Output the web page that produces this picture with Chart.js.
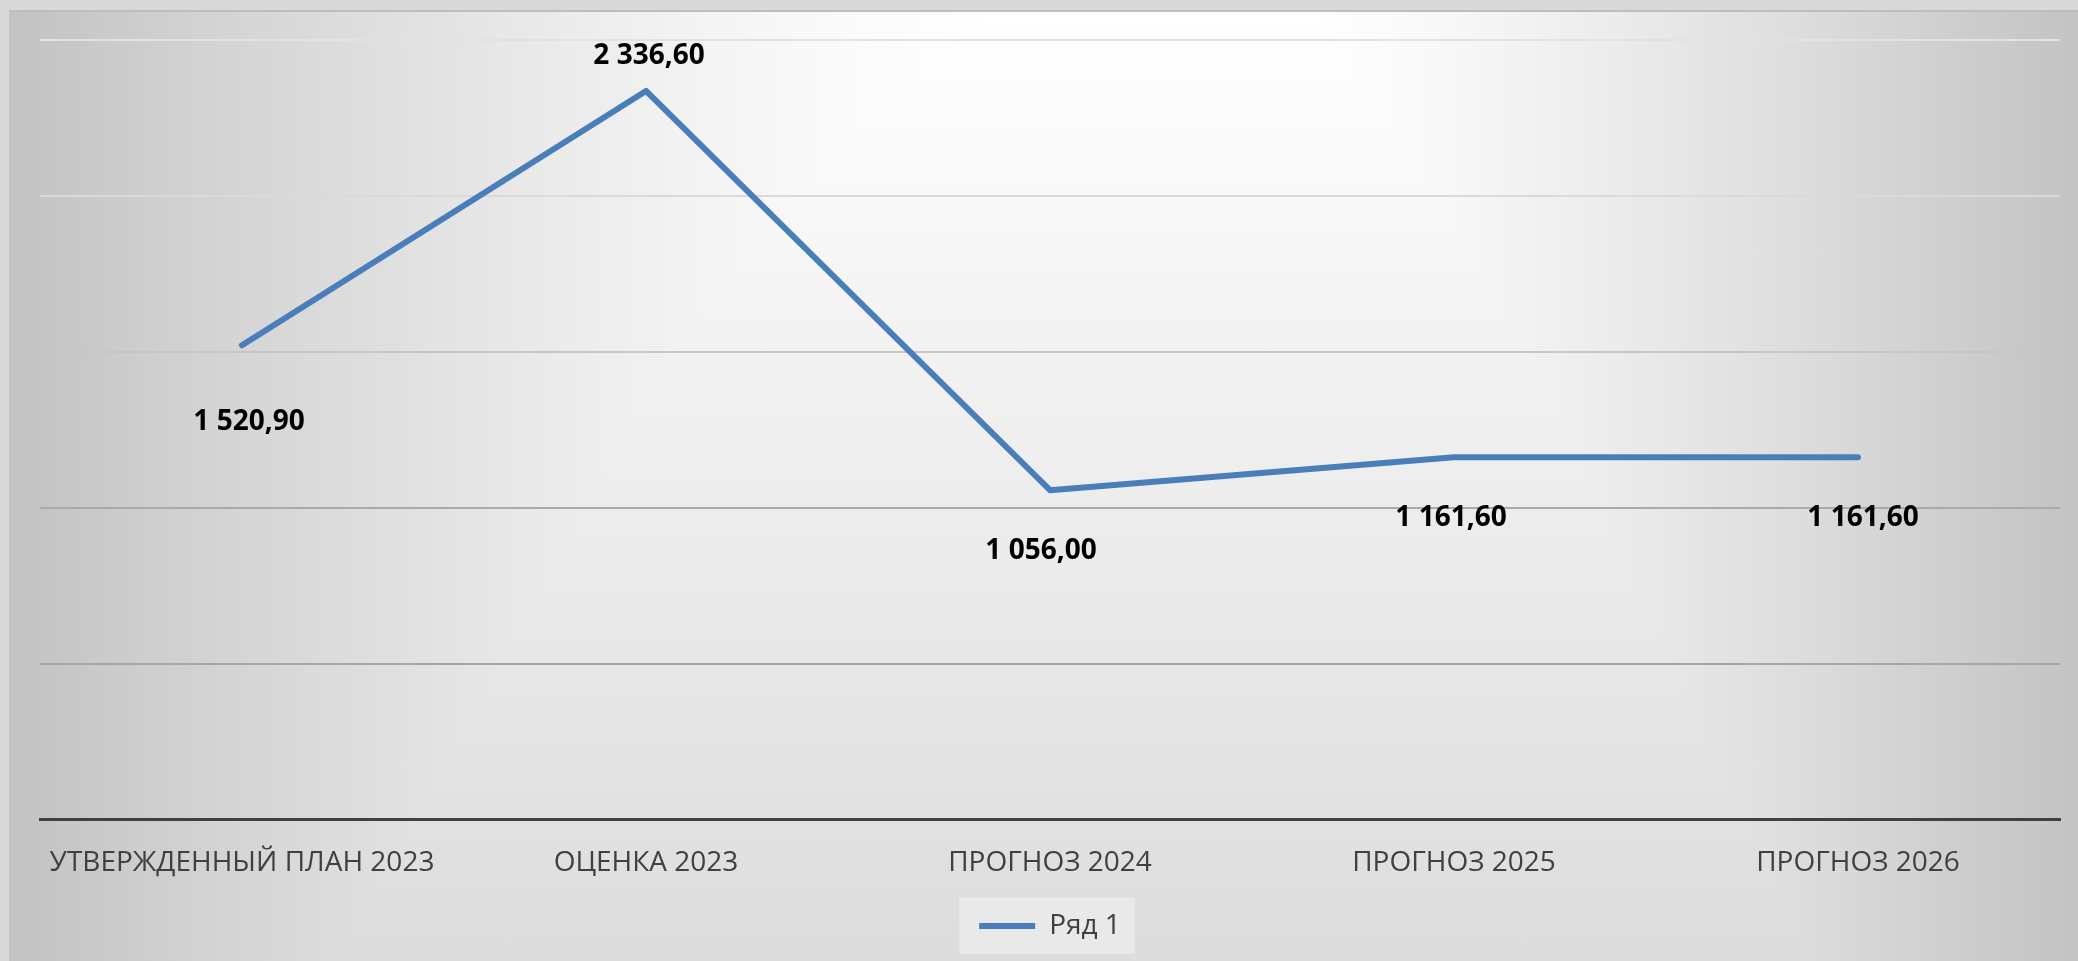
<!DOCTYPE html>
<html lang="ru">
<head>
<meta charset="utf-8">
<title>Ряд 1</title>
<script src="https://cdn.jsdelivr.net/npm/chart.js@4/dist/chart.umd.min.js"></script>
<style>
  html, body { margin: 0; padding: 0; }
  body { width: 2078px; height: 961px; background: #d9d9d9; position: relative; overflow: hidden; }
  /* фон области диаграммы: светлый центр сверху, серые края */
  .plate {
    position: absolute; left: 9px; top: 10px; width: 2069px; height: 951px;
    box-sizing: border-box; border-top: 2px solid #bdbdbd;
    background:
      linear-gradient(to right, #c2c2c2 0%, #cbcbcb 5%, #d5d5d5 11%, #dfdfdf 18%, #e9e9e9 25%, #f3f3f3 33%, #fbfbfb 41%, #ffffff 48%, #ffffff 63%, #f7f7f7 70%, #ebebeb 78%, #dedede 86%, #d0d0d0 93%, #c3c3c3 100%),
      linear-gradient(to bottom, #ffffff 0%, #f9f9f9 18%, #f1f1f1 38%, #ebebeb 58%, #e4e4e4 78%, #dcdcdc 100%);
    background-blend-mode: darken;
  }
  canvas { position: absolute; left: 0; top: 0; }
</style>
</head>
<body>
<div class="plate"></div>
<canvas id="chart" width="2078" height="961"></canvas>
<script>
// данные
const categories = ['УТВЕРЖДЕННЫЙ ПЛАН 2023', 'ОЦЕНКА 2023', 'ПРОГНОЗ 2024', 'ПРОГНОЗ 2025', 'ПРОГНОЗ 2026'];
const seriesName = 'Ряд 1';
const values = [1520.9, 2336.6, 1056.0, 1161.6, 1161.6];
const yTicks = [0, 500, 1000, 1500, 2000, 2500];

const FONT = '"Open Sans", "Noto Sans", "DejaVu Sans", sans-serif';
const LINE = '#4a7ebb';
const TEXT = '#404040';

// цвет линий сетки снизу вверх (0 закрыт осью)
const gridColors = ['rgba(0,0,0,0)', '#a6a6a6', '#aaaaaa', '#c6c6c6', '#dadada', '#e2e2e2'];

// 1 520,90
function fmt(v) {
  const [int, dec] = v.toFixed(2).split('.');
  return int.replace(/\B(?=(\d{3})+(?!\d))/g, ' ') + ',' + dec;
}

// подписи значений, сдвиги как в исходнике
const valueLabels = {
  id: 'valueLabels',
  afterDatasetsDraw(chart, args, opts) {
    const { ctx } = chart;
    const meta = chart.getDatasetMeta(0);
    ctx.save();
    ctx.font = `bold ${opts.size}px ${FONT}`;
    ctx.fillStyle = '#000';
    ctx.textAlign = 'center';
    ctx.textBaseline = 'middle';
    meta.data.forEach((pt, i) => {
      const [dx, dy] = opts.offsets[i];
      ctx.fillText(fmt(values[i]), pt.x + dx, pt.y + dy);
    });
    ctx.restore();
  }
};

// светлая подложка под легендой
const legendPlate = {
  id: 'legendPlate',
  beforeDraw(chart) {
    const hb = chart.legend && chart.legend.legendHitBoxes && chart.legend.legendHitBoxes[0];
    if (!hb) return;
    const { ctx } = chart;
    const cy = hb.top + hb.height / 2;
    ctx.save();
    ctx.fillStyle = 'rgba(255,255,255,0.35)';
    ctx.fillRect(hb.left - 20, cy - 28, hb.width + 34, 56);
    ctx.restore();
  }
};

new Chart(document.getElementById('chart'), {
  type: 'line',
  data: {
    labels: categories,
    datasets: [{
      label: seriesName,
      data: values,
      borderColor: LINE,
      backgroundColor: LINE,
      borderWidth: 6,
      borderCapStyle: 'round',
      borderJoinStyle: 'round',
      pointRadius: 0,
      tension: 0,
    }]
  },
  options: {
    responsive: false,
    animation: false,
    layout: { padding: { left: 40, right: 18, top: 40, bottom: 11 } },
    scales: {
      x: {
        offset: true,
        grid: { display: false },
        border: { display: true, color: '#404040', width: 3 },
        ticks: { color: TEXT, font: { family: FONT, size: 28 }, padding: 19, maxRotation: 0 },
      },
      y: {
        min: 0,
        max: 2500,
        afterBuildTicks: s => { s.ticks = yTicks.map(v => ({ value: v })); },
        border: { display: false },
        grid: { drawTicks: false, lineWidth: 2, color: c => gridColors[c.index] },
        ticks: { display: false },
      }
    },
    plugins: {
      legend: {
        position: 'bottom',
        labels: {
          color: TEXT,
          font: { family: FONT, size: 28 },
          usePointStyle: true,
          pointStyle: 'line',
          pointStyleWidth: 56,
          padding: 13,
        }
      },
      tooltip: { enabled: false },
      valueLabels: { size: 28, offsets: [[7, 77], [3, -35], [-9, 61], [-3, 61], [5, 61]] },
    }
  },
  plugins: [legendPlate, valueLabels]
});
</script>
</body>
</html>
